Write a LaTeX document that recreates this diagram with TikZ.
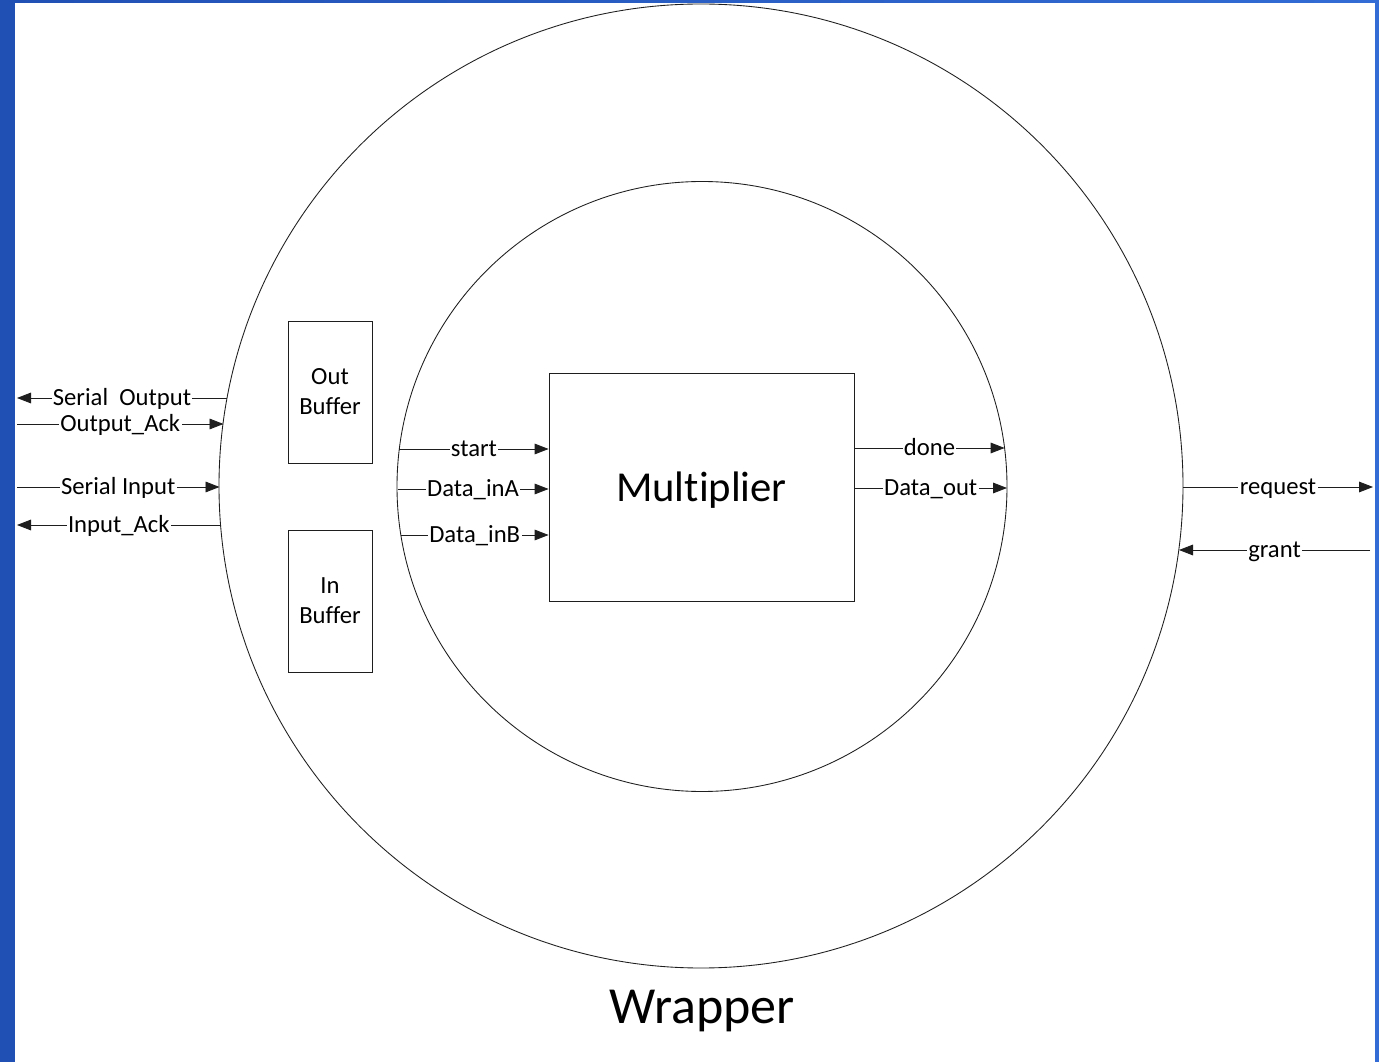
\documentclass[tikz,border=0pt]{standalone}
\usepackage{fontspec}
\setmainfont[Ligatures=NoCommon]{Carlito}
\usetikzlibrary{arrows.meta}
\definecolor{bgblueL}{RGB}{33,80,180}
\definecolor{bgblueR}{RGB}{50,108,212}
\definecolor{ink}{RGB}{30,30,30}
\begin{document}
\begin{tikzpicture}[x=0.75pt,y=-0.75pt,
  line/.style={draw=ink, line width=0.65pt},
  sig/.style={line, -{Triangle[length=10.5pt,width=8pt]}},
  lbl/.style={fill=white, inner sep=1pt, font=\fontsize{18.5}{22}\selectfont, text height=0.62em, text depth=0pt, yshift=-2.8pt},
  ring/.style={circle, line, inner sep=0pt},
  blk/.style={rectangle, line, inner sep=0pt}]
% background
\fill[left color=bgblueL, right color=bgblueR] (0,0) rectangle (1379,1062);
\fill[white] (15,3) rectangle (1375,1062);
% shapes
\node[ring, minimum size=723pt] (wrap) at (701,486) {};
\node[ring, minimum size=457.5pt] (core) at (702,486.5) {};
\node[blk, minimum width=228.75pt, minimum height=171pt] (mult) at (701.5,487) {};
\node[font=\fontsize{32}{38}\selectfont] (multlbl) at (701.5,490) {Multiplier};
\node[blk, minimum width=63pt, minimum height=106.5pt, align=center, font=\fontsize{18.5}{22.5}\selectfont] (outbuf) at (330,392) {Out\\Buffer};
\node[blk, minimum width=63pt, minimum height=106.5pt, align=center, font=\fontsize{18.5}{22.5}\selectfont] (inbuf) at (330,601) {In\\Buffer};
\node[font=\fontsize{39}{46}\selectfont] (wraplbl) at (702,1011) {Wrapper};
% coordinates on the outer ring
\coordinate (soR) at (227,398);
\coordinate (oaR) at (223.5,424);
\coordinate (siR) at (219.5,487);
\coordinate (iaR) at (220.6,525);
\coordinate (rqL) at (1183,487);
\coordinate (grL) at (1179,550);
% free ends
\coordinate (soL) at (17,398);
\coordinate (oaL) at (17,424);
\coordinate (siL) at (17,487);
\coordinate (iaL) at (17,525);
\coordinate (rqR) at (1373,487);
\coordinate (grR) at (1370,550);
% coordinates on the inner ring
\coordinate (stL) at (399.3,449);
\coordinate (daL) at (397.5,489);
\coordinate (dbL) at (400.9,535);
\coordinate (dnR) at (1004.6,448);
\coordinate (doR) at (1007,488);
% connectors
\draw[sig] (soR) -- (soL) node[midway,lbl]{Serial\ \ Output};
\draw[sig] (oaL) -- (oaR) node[midway,lbl]{Output\_Ack};
\draw[sig] (siL) -- (siR) node[midway,lbl]{Serial Input};
\draw[sig] (iaR) -- (iaL) node[midway,lbl]{Input\_Ack};
\draw[sig] (stL) -- (stL -| mult.west) node[midway,lbl]{start};
\draw[sig] (daL) -- (daL -| mult.west) node[midway,lbl]{Data\_inA};
\draw[sig] (dbL) -- (dbL -| mult.west) node[midway,lbl]{Data\_inB};
\draw[sig] (dnR -| mult.east) -- (dnR) node[midway,lbl]{done};
\draw[sig] (doR -| mult.east) -- (doR) node[midway,lbl]{Data\_out};
\draw[sig] (rqL) -- (rqR) node[midway,lbl]{request};
\draw[sig] (grR) -- (grL) node[midway,lbl]{grant};
\end{tikzpicture}
\end{document}
